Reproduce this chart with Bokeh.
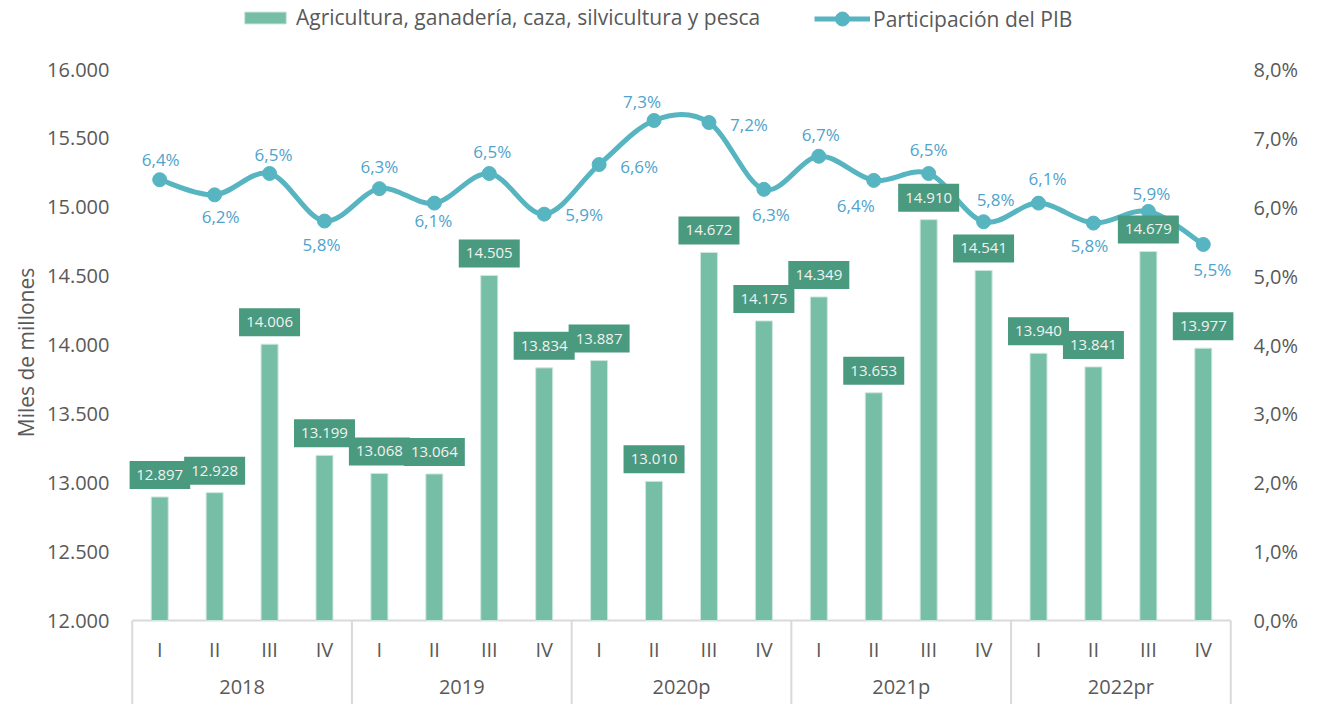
from bokeh.plotting import figure
from bokeh.models import (Range1d, LinearAxis, FixedTicker, Legend, LegendItem,
                          ColumnDataSource)
from bokeh.core.properties import value
from bokeh.embed import file_html
from bokeh.resources import INLINE

# ---------------- data ----------------
years = ["2018", "2019", "2020p", "2021p", "2022pr"]
quarters = ["I", "II", "III", "IV"]
production = [12897, 12928, 14006, 13199, 13068, 13064, 14505, 13834, 13887, 13010,
              14672, 14175, 14349, 13653, 14910, 14541, 13940, 13841, 14679, 13977]
gdp_share = [6.40, 6.18, 6.49, 5.80, 6.27, 6.06, 6.49, 5.90, 6.62, 7.26,
             7.23, 6.26, 6.74, 6.39, 6.49, 5.79, 6.06, 5.77, 5.94, 5.46]
left_ticks = [12000, 12500, 13000, 13500, 14000, 14500, 15000, 15500, 16000]
left_tick_labels = ["12.000", "12.500", "13.000", "13.500", "14.000", "14.500",
                    "15.000", "15.500", "16.000"]
right_ticks = [0, 1, 2, 3, 4, 5, 6, 7, 8]
right_tick_labels = ["0,0%", "1,0%", "2,0%", "3,0%", "4,0%", "5,0%", "6,0%", "7,0%", "8,0%"]
bar_name = "Agricultura, ganadería, caza, silvicultura y pesca"
line_name = "Participación del PIB"
y_title = "Miles de millones"

# ---------------- style / layout ----------------
FONT = "Open Sans"
GREY = "#595959"
BAR = "#76BEA6"
BOX = "#4A9A7F"
LINE = "#57B5C1"
PCT = "#4FA3CC"
SEP = "#D9D9D9"

W, H = 1309, 704
TOP_PX, BASE_PX = 69.0, 620.0          # canvas y of top tick and of baseline
dpp = (left_ticks[-1] - left_ticks[0]) / (BASE_PX - TOP_PX)
left_end = left_ticks[-1] + TOP_PX * dpp
left_start = left_ticks[0] - (H - BASE_PX) * dpp
pdp = (right_ticks[-1] - right_ticks[0]) / (BASE_PX - TOP_PX)
pct_end = right_ticks[-1] + TOP_PX * pdp
pct_start = right_ticks[0] - (H - BASE_PX) * pdp


def ly(px):
    """canvas y (px) -> left-axis data value"""
    return left_start + (H - px) * dpp


# label offsets for percentage labels (screen px)
pct_dx = [1, 6, 4, -3, 0, -1, 3, 40, 40, -12, 40, 7, 2, -18, 0, 12, 9, -4, 3, 9]
pct_dy = [-20, 22, -19, 23, -22, 17, -22, 0, 2, -19, 2, 25, -22, 25, -24, -22, -25, 22, -18, 25]

n = len(production)
xs = [i + 0.5 for i in range(n)]

p = figure(width=W, height=H, x_range=Range1d(-0.05, n + 0.05),
           y_range=Range1d(left_start, left_end),
           output_backend="svg", toolbar_location=None,
           x_axis_location=None, y_axis_location=None,
           min_border_left=129, min_border_right=76,
           min_border_top=0, min_border_bottom=0)
p.extra_y_ranges = {"pct": Range1d(pct_start, pct_end)}
p.outline_line_color = None
p.background_fill_color = "white"
p.border_fill_color = "white"
p.xgrid.visible = False
p.ygrid.visible = False

# axes
left_axis = LinearAxis(ticker=FixedTicker(ticks=left_ticks),
                       major_label_overrides={t: s for t, s in zip(left_ticks, left_tick_labels)},
                       axis_label=y_title)
right_axis = LinearAxis(y_range_name="pct", ticker=FixedTicker(ticks=right_ticks),
                        major_label_overrides={t: s for t, s in zip(right_ticks, right_tick_labels)})
for ax in (left_axis, right_axis):
    ax.axis_line_color = None
    ax.major_tick_line_color = None
    ax.minor_tick_line_color = None
    ax.major_tick_out = 0
    ax.major_tick_in = 0
    ax.major_label_text_font = FONT
    ax.major_label_text_font_size = "20px"
    ax.major_label_text_color = GREY
left_axis.major_label_standoff = 20
right_axis.major_label_standoff = 20
left_axis.axis_label_text_font = FONT
left_axis.axis_label_text_font_size = "21px"
left_axis.axis_label_text_font_style = "normal"
left_axis.axis_label_text_color = GREY
left_axis.axis_label_standoff = 4
p.add_layout(left_axis, "left")
p.add_layout(right_axis, "right")

# category axis (drawn)
p.segment(x0=[0], y0=[left_ticks[0]], x1=[n], y1=[left_ticks[0]],
          line_color=SEP, line_width=2)
seps = [4 * k for k in range(len(years) + 1)]
p.segment(x0=seps, y0=[left_ticks[0]] * len(seps), x1=seps, y1=[left_start] * len(seps),
          line_color=SEP, line_width=2)
q_labels = [q for _ in years for q in quarters]
p.text(x=xs, y=[ly(649)] * n, text=q_labels, text_align="center", text_baseline="middle",
       text_font=value(FONT), text_font_size="20px", text_color=GREY)
p.text(x=[4 * k + 2 for k in range(len(years))], y=[ly(686)] * len(years), text=years,
       text_align="center", text_baseline="middle",
       text_font=value(FONT), text_font_size="20px", text_color=GREY)

# bars
bars = p.vbar(x=xs, top=production, bottom=left_ticks[0], width=0.31,
              fill_color=BAR, line_color="#CFE8DE", line_width=1)

# smoothed line (cubic bezier through points)
cx0, cy0, cx1, cy1 = [], [], [], []
for i in range(n - 1):
    a = max(i - 1, 0)
    b = min(i + 2, n - 1)
    cx0.append(xs[i] + (xs[i + 1] - xs[a]) / 6)
    cy0.append(gdp_share[i] + (gdp_share[i + 1] - gdp_share[a]) / 6)
    cx1.append(xs[i + 1] - (xs[b] - xs[i]) / 6)
    cy1.append(gdp_share[i + 1] - (gdp_share[b] - gdp_share[i]) / 6)
curve = p.bezier(x0=xs[:-1], y0=gdp_share[:-1], x1=xs[1:], y1=gdp_share[1:],
                 cx0=cx0, cy0=cy0, cx1=cx1, cy1=cy1,
                 line_color=LINE, line_width=5, y_range_name="pct")
dots = p.scatter(x=xs, y=gdp_share, size=14, fill_color=LINE, line_color=LINE,
                 y_range_name="pct")

# bar value labels
box_y = [v + 22 * dpp for v in production]
bar_labels = [f"{v:,}".replace(",", ".") for v in production]
p.rect(x=xs, y=box_y, width=61, height=28, width_units="screen", height_units="screen",
       fill_color=BOX, line_color=None)
p.text(x=xs, y=box_y, text=bar_labels, text_align="center", text_baseline="middle",
       text_font=value(FONT), text_font_size="15px", text_color="#F2F2F2")

pct_src = ColumnDataSource(dict(
    x=xs, y=gdp_share,
    t=[f"{v:.1f}".replace(".", ",") + "%" for v in gdp_share],
    dx=pct_dx, dy=pct_dy))
p.text(x="x", y="y", text="t", x_offset="dx", y_offset="dy", source=pct_src,
       text_align="center", text_baseline="middle",
       text_font=value(FONT), text_font_size="17px", text_color=PCT, y_range_name="pct")


# legends
def make_legend(items, loc, gw, gh, standoff):
    return Legend(items=items, location=loc, orientation="horizontal",
                  glyph_width=gw, glyph_height=gh, label_standoff=standoff,
                  label_text_font=FONT, label_text_font_size="21px",
                  label_text_color=GREY, padding=0, margin=0, spacing=0,
                  border_line_color=None, background_fill_alpha=0)


p.add_layout(make_legend([LegendItem(label=bar_name, renderers=[bars])], (110, 673), 52, 15, 5))
p.add_layout(make_legend([LegendItem(label=line_name, renderers=[curve, dots])], (685, 668), 56, 35, 3))

open("out.html", "w").write(file_html(p, INLINE))
